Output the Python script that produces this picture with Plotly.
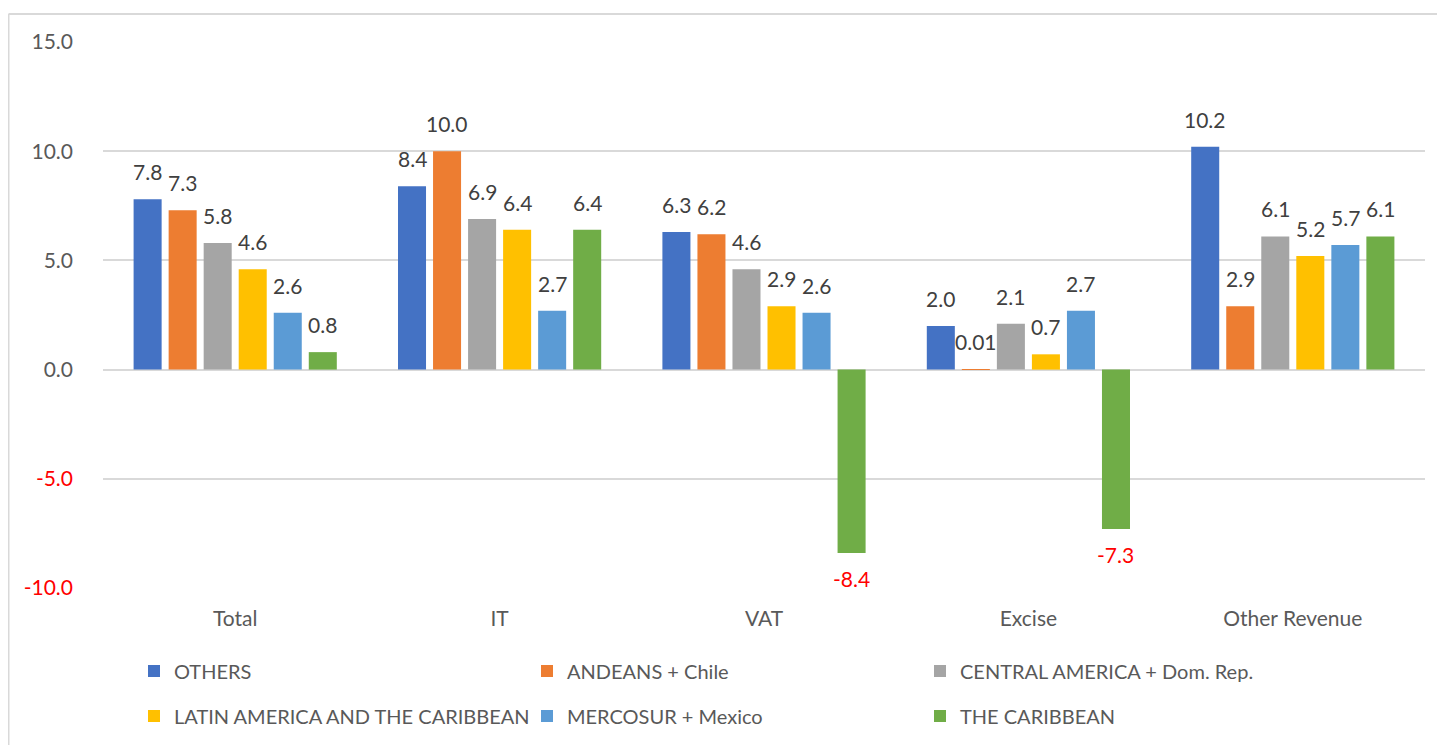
import plotly.graph_objects as go

categories = ["Total", "IT", "VAT", "Excise", "Other Revenue"]
series_names = ["OTHERS", "ANDEANS + Chile", "CENTRAL AMERICA + Dom. Rep.",
                "LATIN AMERICA AND THE CARIBBEAN", "MERCOSUR + Mexico", "THE CARIBBEAN"]
others = [7.8, 8.4, 6.3, 2.0, 10.2]
andeans = [7.3, 10.0, 6.2, 0.01, 2.9]
central = [5.8, 6.9, 4.6, 2.1, 6.1]
latam = [4.6, 6.4, 2.9, 0.7, 5.2]
mercosur = [2.6, 2.7, 2.6, 2.7, 5.7]
caribbean = [0.8, 6.4, -8.4, -7.3, 6.1]
colors = ["#4472C4", "#ED7D31", "#A5A5A5", "#FFC000", "#5B9BD5", "#70AD47"]
tick_vals = [-10, -5, 0, 5, 10, 15]

FONT = "Lato, 'Noto Sans', sans-serif"
BARGAP, GROUPGAP = 0.205, 0.2

def fmt(v):
    return f"{v:.2f}" if abs(v) < 0.05 else f"{v:.1f}"

# page offset (browser body margin) = 8px
OFF = 8
W, H = 1437, 737
L, R, T, B = 95, 20, 34, 157
pw, ph = W - L - R, H - T - B
def xp(px): return (px - OFF - L) / pw
def yp(py): return (OFF + H - B - py) / ph

fig = go.Figure()
all_vals = [others, andeans, central, latam, mercosur, caribbean]
n = len(all_vals)
slot = pw / len(categories) * (1 - BARGAP) / n
annotations = []
for i, (name, vals, col) in enumerate(zip(series_names, all_vals, colors)):
    fig.add_trace(go.Bar(
        x=categories, y=vals, name=name, marker=dict(color=col, line=dict(width=0)),
        legend="legend" if i < 3 else "legend2", hoverinfo="x+y+name",
    ))
    for c, v in zip(categories, vals):
        neg = v < 0
        annotations.append(dict(
            x=c, y=v, xref="x", yref="y", text=fmt(v), showarrow=False,
            xshift=(i - (n - 1) / 2) * slot,
            yanchor="top" if neg else "bottom", yshift=-11 if neg else 13,
            font=dict(size=21, family=FONT, color="#FF0000" if neg else "#404040"),
        ))

ticktext = [(f'<span style="color:#FF0000">{v:.1f}</span>' if v < 0 else f"{v:.1f}") for v in tick_vals]

leg_common = dict(orientation="h", xanchor="left", yanchor="middle",
                  entrywidth=348, entrywidthmode="pixels", traceorder="normal",
                  font=dict(size=20, color="#595959"), itemwidth=30, bgcolor="rgba(0,0,0,0)")

fig.update_layout(
    width=W, height=H,
    margin=dict(l=L, r=R, t=T, b=B, autoexpand=False),
    paper_bgcolor="white", plot_bgcolor="white",
    barmode="group", bargap=BARGAP, bargroupgap=GROUPGAP,
    font=dict(family=FONT, size=21, color="#595959"),
    xaxis=dict(showgrid=False, showline=False, ticks="", ticklabelstandoff=16,
               tickfont=dict(size=21, color="#595959")),
    yaxis=dict(range=[-10, 15], tickvals=tick_vals, ticktext=ticktext,
               showgrid=True, gridcolor="#D9D9D9", gridwidth=1.5,
               zeroline=True, zerolinecolor="#D9D9D9", zerolinewidth=1.5,
               ticks="", ticklabelstandoff=29, tickfont=dict(size=21, color="#595959")),
    legend=dict(x=xp(134), y=yp(671), **leg_common),
    legend2=dict(x=xp(134), y=yp(716), **leg_common),
    annotations=annotations,
    shapes=[
        dict(type="line", xref="paper", yref="paper", x0=xp(8.5), x1=xp(8.5), y0=yp(14), y1=yp(760),
             line=dict(color="#D9D9D9", width=2)),
        dict(type="line", xref="paper", yref="paper", x0=xp(8.5), x1=xp(1460), y0=yp(14), y1=yp(14),
             line=dict(color="#D9D9D9", width=2)),
    ],
)
fig.write_html("out.html")
